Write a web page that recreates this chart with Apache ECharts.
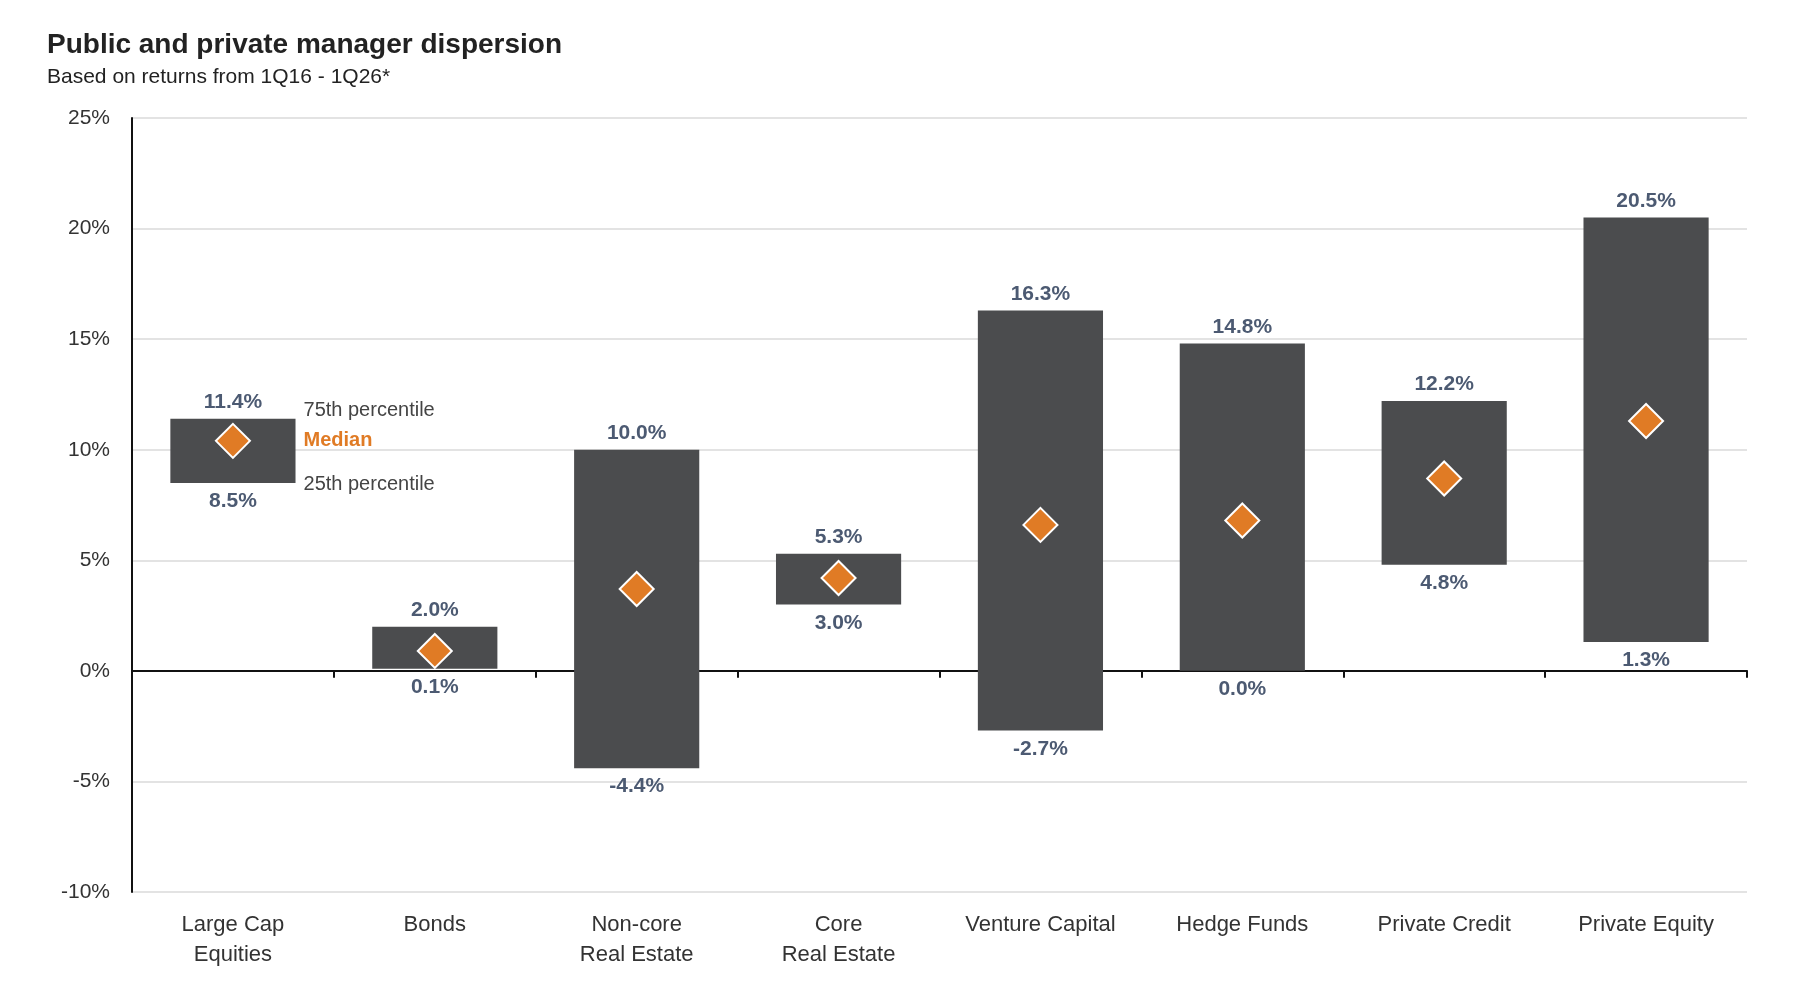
<!DOCTYPE html>
<html>
<head>
<meta charset="utf-8">
<script src="https://cdn.jsdelivr.net/npm/echarts@6/dist/echarts.min.js"></script>
<style>html,body{margin:0;background:#fff}#main{width:1794px;height:994px}</style>
</head>
<body>
<div id="main"></div>
<script>
var categories = ['Large Cap\nEquities', 'Bonds', 'Non-core\nReal Estate', 'Core\nReal Estate', 'Venture Capital', 'Hedge Funds', 'Private Credit', 'Private Equity'];
var p75 = [11.4, 2.0, 10.0, 5.3, 16.3, 14.8, 12.2, 20.5];
var p25 = [8.5, 0.1, -4.4, 3.0, -2.7, 0.0, 4.8, 1.3];
var median = [10.4, 0.9, 3.7, 4.2, 6.6, 6.8, 8.7, 11.3];
var yTicks = [-10, -5, 0, 5, 10, 15, 20, 25];

var font = 'Liberation Sans, Arial, sans-serif';
var chart = echarts.init(document.getElementById('main'));

chart.setOption({
    title: {
        text: 'Public and private manager dispersion',
        subtext: 'Based on returns from 1Q16 - 1Q26*',
        left: 42, top: 26, itemGap: 8,
        textStyle: { fontFamily: font, fontSize: 28, fontWeight: 'bold', color: '#222' },
        subtextStyle: { fontFamily: font, fontSize: 21, color: '#222' }
    },
    grid: { left: 132, right: 47, top: 118, bottom: 102 },
    xAxis: [{
        type: 'category', data: categories,
        axisLine: { onZero: true, lineStyle: { color: '#111', width: 2 } },
        axisTick: { show: true, length: 7, lineStyle: { color: '#111', width: 2 } },
        axisLabel: { show: false }
    }, {
        type: 'category', data: categories, position: 'bottom',
        axisLine: { show: false }, axisTick: { show: false },
        axisLabel: { fontFamily: font, fontSize: 22, color: '#333', margin: 18, lineHeight: 30 }
    }],
    yAxis: {
        min: -10, max: 25, interval: 5,
        axisLine: { show: true, lineStyle: { color: '#111', width: 2 } },
        axisTick: { show: false },
        splitLine: { lineStyle: { color: '#e3e3e3', width: 2 } },
        axisLabel: { fontFamily: font, fontSize: 21, color: '#333', margin: 22,
            formatter: function (v) { return yTicks.indexOf(v) >= 0 ? v + '%' : ''; } }
    },
    series: [{
        type: 'custom',
        data: categories.map(function (c, i) { return [i, p25[i], p75[i], median[i]]; }),
        encode: { x: 0, y: [1, 2] },
        renderItem: function (params, api) {
            var i = api.value(0);
            var lo = api.coord([i, api.value(1)]);
            var hi = api.coord([i, api.value(2)]);
            var md = api.coord([i, api.value(3)]);
            var w = api.size([1, 0])[0] * 0.62;
            var lab = { fontFamily: font, fontSize: 21, fontWeight: 'bold', fill: '#4c5a72' };
            var kids = [
                { type: 'rect', shape: { x: lo[0] - w / 2, y: hi[1], width: w, height: lo[1] - hi[1] },
                  style: { fill: '#4b4c4e' } },
                { type: 'text', style: Object.assign({ text: api.value(2).toFixed(1) + '%', x: hi[0], y: hi[1] - 6,
                  align: 'center', verticalAlign: 'bottom' }, lab) },
                { type: 'text', style: Object.assign({ text: api.value(1).toFixed(1) + '%', x: lo[0], y: lo[1] + 8,
                  align: 'center', verticalAlign: 'top' }, lab) },
                { type: 'path', shape: { pathData: 'M0,-17L17,0L0,17L-17,0Z', x: md[0] - 17, y: md[1] - 17, width: 34, height: 34 },
                  style: { fill: '#e07b25', stroke: '#fff', lineWidth: 2 } }
            ];
            if (i === 0) {
                var tx = lo[0] + w / 2 + 8;
                var ann = { fontFamily: font, fontSize: 20, fill: '#444', align: 'left', verticalAlign: 'middle' };
                kids.push({ type: 'text', style: Object.assign({ text: '75th percentile', x: tx, y: hi[1] - 8 }, ann) });
                kids.push({ type: 'text', style: Object.assign({}, ann, { text: 'Median', x: tx, y: md[1], fill: '#e07b25', fontWeight: 'bold' }) });
                kids.push({ type: 'text', style: Object.assign({ text: '25th percentile', x: tx, y: lo[1] + 2 }, ann) });
            }
            return { type: 'group', children: kids };
        }
    }]
});
</script>
</body>
</html>
